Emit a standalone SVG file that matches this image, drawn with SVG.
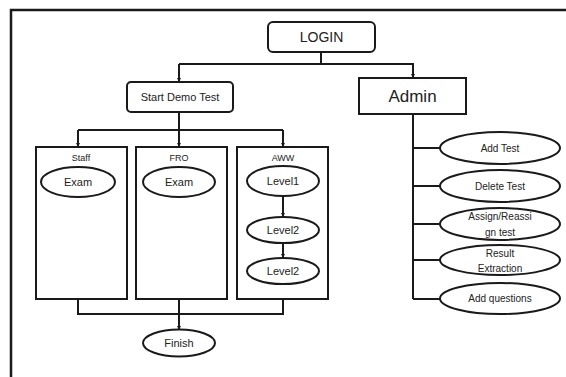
<svg xmlns="http://www.w3.org/2000/svg" width="566" height="377" viewBox="0 0 566 377">
  <defs>
    <marker id="arrow" viewBox="0 0 10 10" refX="10" refY="5" markerWidth="4" markerHeight="4" orient="auto" markerUnits="userSpaceOnUse">
      <path d="M0,0 L10,5 L0,10 z" fill="#1a1a1a"/>
    </marker>
    <style>
      .box { fill: #ffffff; stroke: #1a1a1a; stroke-width: 2; }
      .ell { fill: #ffffff; stroke: #1a1a1a; stroke-width: 2; }
      .wire { fill: none; stroke: #1a1a1a; stroke-width: 2; }
      .arr { fill: none; stroke: #1a1a1a; stroke-width: 2; marker-end: url(#arrow); }
      text { font-family: "Liberation Sans", Arial, sans-serif; fill: #222222; text-anchor: middle; dominant-baseline: central; }
      .t14 { font-size: 14px; }
      .t17 { font-size: 17px; }
      .t11 { font-size: 11px; }
      .t10 { font-size: 10px; }
      .t9 { font-size: 9px; }
    </style>
  </defs>
  <rect x="0" y="0" width="566" height="377" fill="#ffffff"/>

  <!-- page frame -->
  <path d="M11,377 V10 H566" fill="none" stroke="#1a1a1a" stroke-width="2.5"/>

  <g id="login">
    <rect class="box" x="268" y="22" width="107" height="30" rx="5"/>
    <text class="t14" x="321.5" y="37">LOGIN</text>
  </g>

  <g id="start-demo-test">
    <rect class="box" x="127" y="82" width="106" height="30" rx="4"/>
    <text class="t11" x="180" y="97">Start Demo Test</text>
  </g>

  <g id="admin">
    <rect class="box" x="359" y="78" width="107" height="36"/>
    <text class="t17" x="412.5" y="96">Admin</text>
  </g>

  <g id="staff">
    <rect class="box" x="36" y="147" width="91" height="152"/>
    <text class="t9" x="81" y="158">Staff</text>
    <ellipse class="ell" cx="78" cy="182" rx="37" ry="15"/>
    <text class="t11" x="78" y="182">Exam</text>
  </g>

  <g id="fro">
    <rect class="box" x="136" y="147" width="91" height="152"/>
    <text class="t9" x="179" y="158">FRO</text>
    <ellipse class="ell" cx="179" cy="182" rx="36" ry="15"/>
    <text class="t11" x="179" y="182">Exam</text>
  </g>

  <g id="aww">
    <rect class="box" x="237" y="147" width="91" height="152"/>
    <text class="t9" x="283" y="158">AWW</text>
    <ellipse class="ell" cx="283" cy="181" rx="36" ry="15"/>
    <text class="t11" x="283" y="181">Level1</text>
    <ellipse class="ell" cx="283" cy="230" rx="36" ry="13"/>
    <text class="t11" x="283" y="230">Level2</text>
    <ellipse class="ell" cx="283" cy="271" rx="36" ry="13"/>
    <text class="t11" x="283" y="271">Level2</text>
  </g>

  <g id="finish">
    <ellipse class="ell" cx="179" cy="343" rx="36" ry="13.5"/>
    <text class="t11" x="179" y="343">Finish</text>
  </g>

  <g id="add-test">
    <ellipse class="ell" cx="500" cy="148" rx="60" ry="16"/>
    <text class="t10" x="500" y="148">Add Test</text>
  </g>

  <g id="delete-test">
    <ellipse class="ell" cx="500" cy="186" rx="60" ry="16"/>
    <text class="t10" x="500" y="186">Delete Test</text>
  </g>

  <g id="assign-test">
    <ellipse class="ell" cx="500" cy="224" rx="60" ry="16"/>
    <text class="t10" x="500" y="216">Assign/Reassi</text>
    <text class="t10" x="500" y="232">gn test</text>
  </g>

  <g id="result-extraction">
    <ellipse class="ell" cx="500" cy="260" rx="60" ry="15"/>
    <text class="t10" x="500" y="253">Result</text>
    <text class="t10" x="500" y="268">Extraction</text>
  </g>

  <g id="add-questions">
    <ellipse class="ell" cx="500" cy="298.5" rx="60" ry="15.5"/>
    <text class="t10" x="500" y="298.5">Add questions</text>
  </g>

  <!-- connectors, drawn over the box fills -->
  <g id="connectors">
    <path class="wire" d="M321,52 V64 H179"/>
    <path class="arr" d="M179,64 V82"/>
    <path class="arr" d="M321,64 H413 V78"/>
    <path class="wire" d="M179,112 V130"/>
    <path class="wire" d="M78,130 H283"/>
    <path class="arr" d="M78,130 V147"/>
    <path class="arr" d="M179,130 V147"/>
    <path class="arr" d="M283,130 V147"/>
    <path class="arr" d="M283,196 V217"/>
    <path class="arr" d="M283,243 V258"/>
    <path class="wire" d="M78,299 V314 H283 V299"/>
    <path class="arr" d="M179,299 V330"/>
    <path class="wire" d="M413,114 V299"/>
    <path class="wire" d="M413,148 H440 M413,186 H440 M413,224 H440 M413,260 H440 M413,299 H440"/>
  </g>
</svg>
